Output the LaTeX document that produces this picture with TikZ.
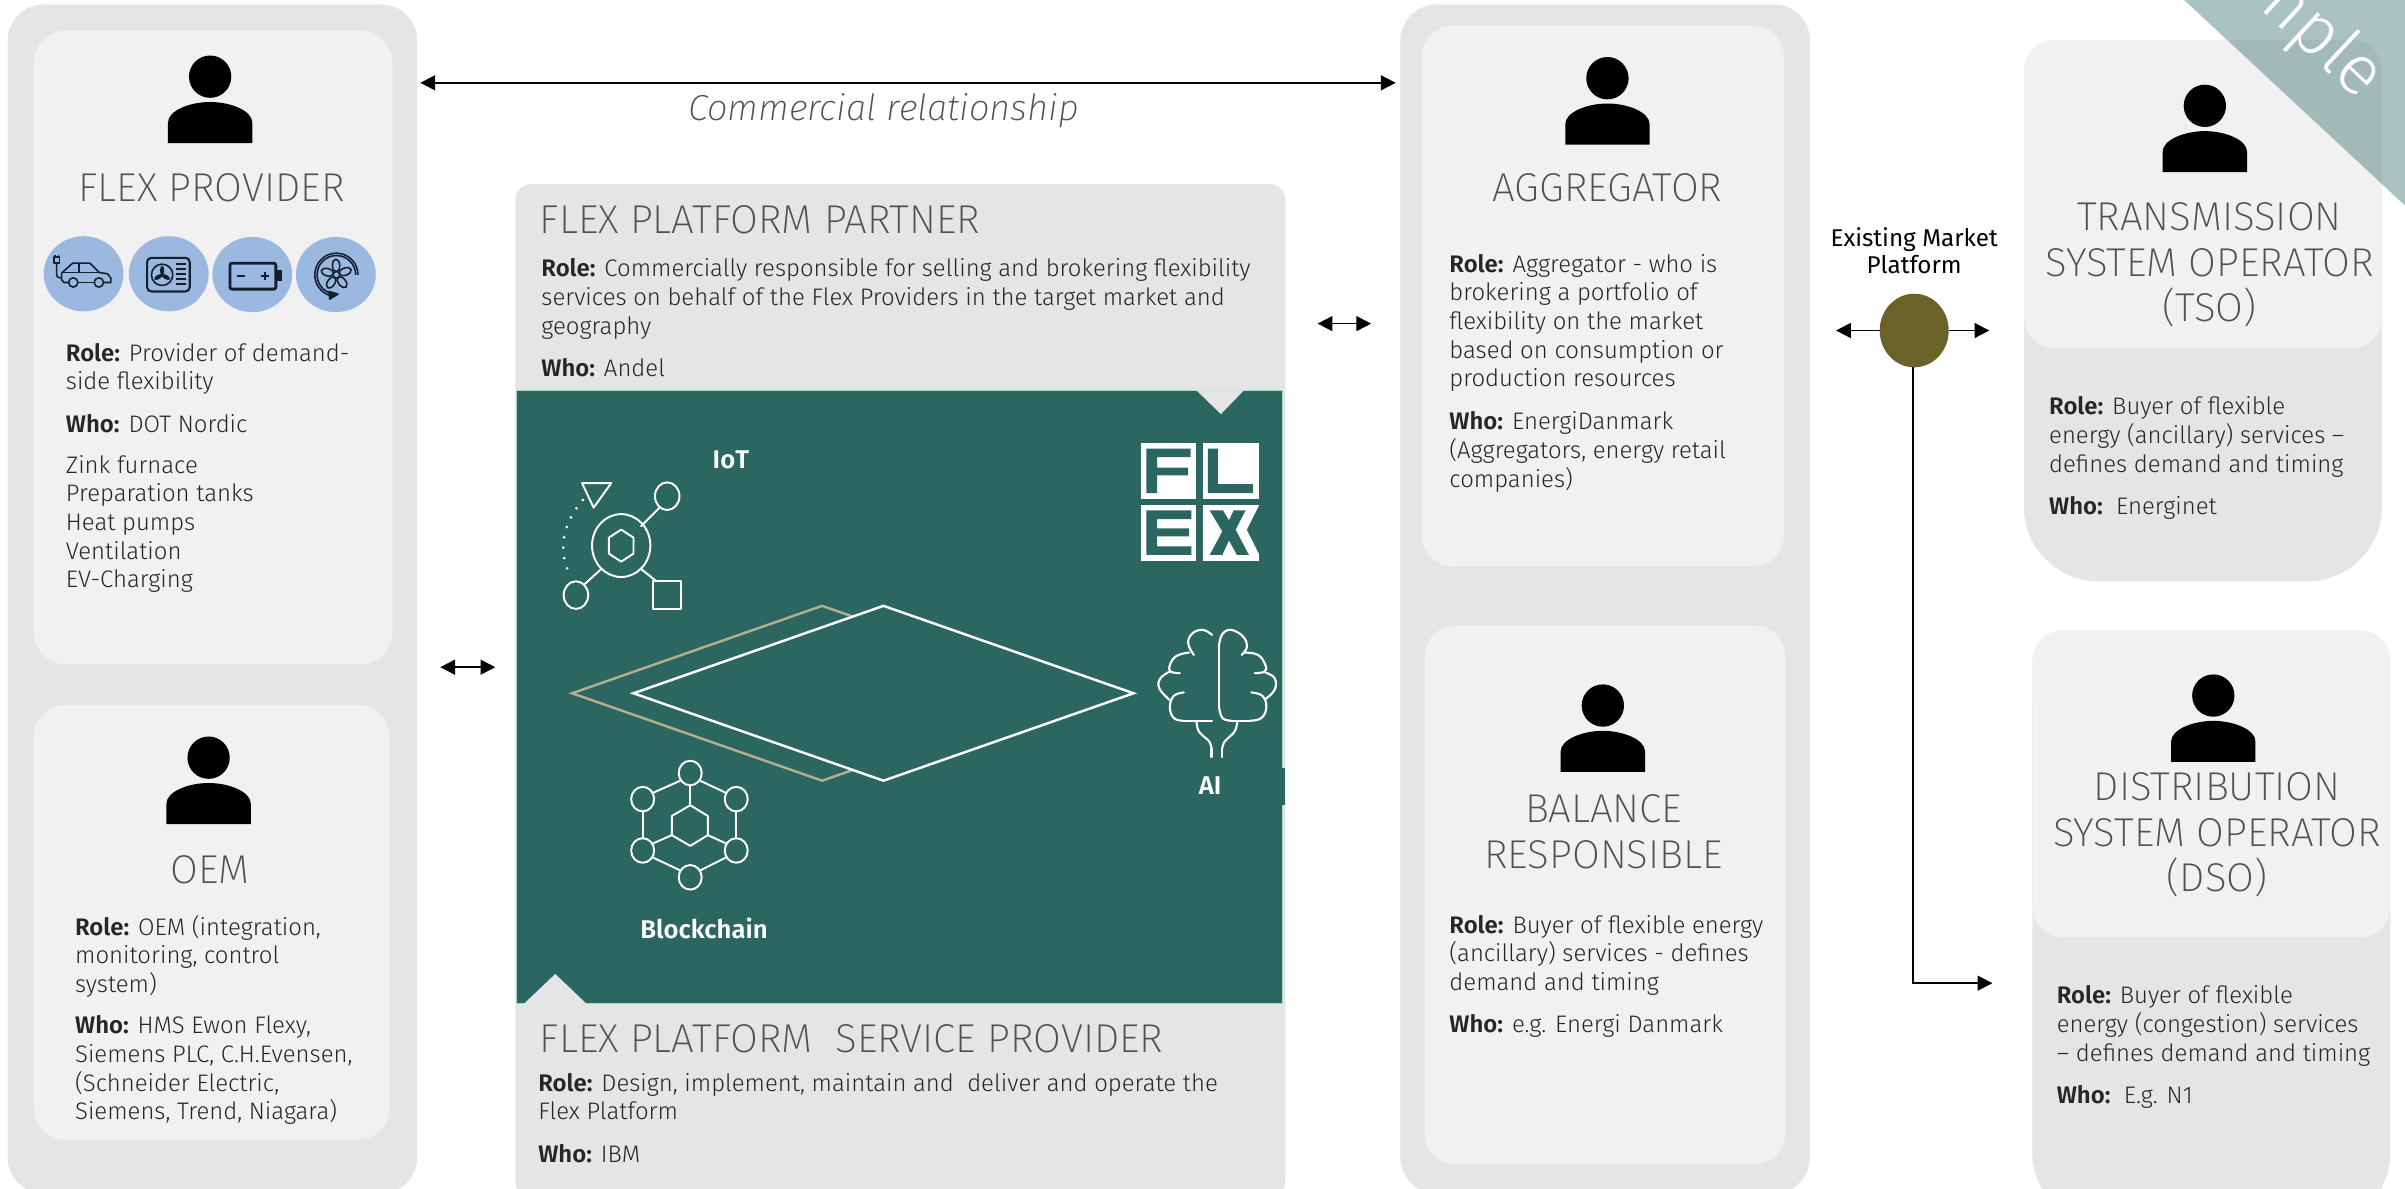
\documentclass[tikz,border=0pt]{standalone}
\usepackage{fontspec}
\setmainfont{Fira Sans Light}[BoldFont={Fira Sans SemiBold},ItalicFont={Fira Sans Light Italic}]
\newfontfamily\titlefont{Fira Sans ExtraLight}
\newfontfamily\thinitalic{Fira Sans ExtraLight Italic}
\newfontfamily\regfont{Fira Sans}
\usetikzlibrary{arrows.meta,shapes.geometric,calc}
\definecolor{outerg}{HTML}{E5E5E5}
\definecolor{innerg}{HTML}{F1F1F1}
\definecolor{teal}{HTML}{2B6661}
\definecolor{olivec}{HTML}{6B6229}
\definecolor{tanc}{HTML}{B5AE8C}
\definecolor{iconb}{HTML}{9AB8E0}
\definecolor{icond}{HTML}{14202E}
\definecolor{titleg}{HTML}{505050}
\definecolor{bodyg}{HTML}{262626}
\tikzset{
  panelbox/.style={inner sep=0pt,outer sep=0pt,draw=none},
  txt/.style={inner sep=0pt,outer sep=0pt,anchor=north west,align=left,text=bodyg,
    font=\fontsize{6.8}{8.16}\selectfont},
  ttl/.style={inner sep=0pt,outer sep=0pt,anchor=center,align=center,text=titleg,
    font=\titlefont\fontsize{11.45}{13}\selectfont},
  ttlw/.style={inner sep=0pt,outer sep=0pt,anchor=west,align=left,text=titleg,
    font=\titlefont\fontsize{11.45}{13}\selectfont},
  lab/.style={inner sep=0pt,outer sep=0pt,text=white,font=\bfseries\fontsize{7.3}{8.16}\selectfont},
  conn/.style={line width=0.5pt,draw=black,{Triangle[length=4.2pt,width=4.2pt]}-{Triangle[length=4.2pt,width=4.2pt]}},
  conn1/.style={line width=0.5pt,draw=black,-{Triangle[length=4.2pt,width=4.2pt]}},
  iconl/.style={line width=0.55pt,draw=white,line cap=round,line join=round},
  dl/.style={line width=0.45pt,draw=icond,line join=round},
}
\newcommand\panel[7]{\node[panelbox,fill=#7,rounded corners=#6,minimum width={(#4-#2)*0.15338mm},minimum height={(#5-#3)*0.15338mm}] (#1) at ({(#2+#4)/2},{(#3+#5)/2}) {};}
\newcommand\person[2]{%
  \fill[black] (#1,#2) circle (13.8);
  \fill[black] (#1-27.5,#2+43.3) -- (#1-27.5,#2+30) .. controls (#1-27.5,#2+22) and (#1-13,#2+16.5) .. (#1,#2+16.5) .. controls (#1+13,#2+16.5) and (#1+27.5,#2+22) .. (#1+27.5,#2+30) -- (#1+27.5,#2+43.3) -- cycle;}
\newcommand\tb[4]{\node[txt] (#1) at (#2,#3-6.3) {#4};}
\begin{document}
\begin{tikzpicture}[x=0.015338cm,y=-0.015338cm]
\path[use as bounding box] (0,0) rectangle (1568,774.6);
\begin{scope}
\clip (0,0) rectangle (1568,774.6);
% outer panels
\panel{lo}{5}{3}{272}{778}{3.6mm}{outerg}
\panel{fp}{22}{20}{256}{433}{3.2mm}{innerg}
\panel{oem}{22}{459.5}{254}{743}{3.2mm}{innerg}
\panel{plat}{336}{120}{838}{780}{1.6mm}{outerg}
\panel{ao}{913}{3}{1180}{778}{3.6mm}{outerg}
\panel{agg}{927}{17}{1163}{369}{3mm}{innerg}
\panel{bal}{929}{408}{1164}{759}{3mm}{innerg}
\panel{tso}{1319.5}{26}{1553}{379}{7.5mm}{outerg}
\panel{tsot}{1319.5}{26}{1553}{227}{3mm}{innerg}
\panel{dso}{1325}{411}{1558.5}{800}{7.5mm}{outerg}
\panel{dsot}{1325}{411}{1558.5}{611}{3mm}{innerg}
% persons
\person{137}{50}
\person{136}{494}
\person{1048}{51}
\person{1045}{460}
\person{1437.5}{69}
\person{1443}{453.5}
% titles
\node[ttl] (t1) at (138,122.5) {FLEX PROVIDER};
\node[ttl] (t2) at (137,567) {OEM};
\node[ttl] (t3) at (1048,122.5) {AGGREGATOR};
\node[ttl] (t4) at (1045.5,542.3) {BALANCE\\RESPONSIBLE};
\node[ttl] (t5) at (1440.5,172.8) {TRANSMISSION\\SYSTEM OPERATOR\\(TSO)};
\node[ttl] (t6) at (1445.5,544.3) {DISTRIBUTION\\SYSTEM OPERATOR\\(DSO)};
\node[ttlw] (t7) at (352,143) {FLEX PLATFORM PARTNER};
\node[ttlw] (t8) at (352,677) {FLEX PLATFORM\ \ SERVICE PROVIDER};
% body texts
\tb{x1}{43}{230}{\textbf{Role:} Provider of demand-\\side flexibility\\[4pt]\textbf{Who:} DOT Nordic}
\tb{x1b}{43}{303}{Zink furnace\\Preparation tanks\\Heat pumps\\Ventilation\\EV-Charging}
\tb{x2}{49}{603}{\textbf{Role:} OEM (integration,\\monitoring, control\\system)\\[3.6pt]\textbf{Who:} HMS Ewon Flexy,\\Siemens PLC, C.H.Evensen,\\(Schneider Electric,\\Siemens, Trend, Niagara)}
\tb{x3}{353}{175}{\textbf{Role:} Commercially responsible for selling and brokering flexibility\\services on behalf of the Flex Providers in the target market and\\geography\\[4pt]\textbf{Who:} Andel}
\tb{x4}{351}{706}{\textbf{Role:} Design, implement, maintain and\ \ deliver and operate the\\Flex Platform\\[4pt]\textbf{Who:} IBM}
\tb{x5}{945}{172}{\textbf{Role:} Aggregator - who is\\brokering a portfolio of\\flexibility on the market\\based on consumption or\\production resources\\[4pt]\textbf{Who:} EnergiDanmark\\(Aggregators, energy retail\\companies)}
\tb{x6}{945}{603}{\textbf{Role:} Buyer of flexible energy\\(ancillary) services - defines\\demand and timing\\[3.6pt]\textbf{Who:} e.g. Energi Danmark}
\tb{x7}{1336}{265}{\textbf{Role:} Buyer of flexible\\energy (ancillary) services --\\defines demand and timing\\[4pt]\textbf{Who:}\ \ Energinet}
\tb{x8}{1341}{649}{\textbf{Role:} Buyer of flexible\\energy (congestion) services\\-- defines demand and timing\\[4pt]\textbf{Who:}\ \ E.g. N1}
% teal platform
\node[panelbox,fill=teal,draw={rgb,255:red,168;green,216;blue,204},line width=0.25pt,minimum width={(836-337)*0.15338mm},minimum height={(654.5-254.5)*0.15338mm}] (core) at (586.5,454.5) {};
\fill[outerg] (780,254.5) -- (811,254.5) -- (796,270) -- cycle;
\fill[outerg] (341,655) -- (383,655) -- (362,635) -- cycle;
\fill[teal] (835.5,501) rectangle (837.5,525);
\draw[tanc,line width=0.7pt,line join=miter] (373,452) -- (536,395) -- (596,416) -- (596,488) -- (536,509) -- cycle;
\fill[teal] (576,395) -- (739,452) -- (576,509) -- (413,452) -- cycle;
\draw[white,line width=0.7pt,line join=miter] (576,395) -- (739,452) -- (576,509) -- (413,452) -- cycle;
\node[lab] (iot) at (476.5,300) {IoT};
\node[lab] (ai) at (789,512) {AI};
\node[lab] (bc) at (459,605) {Blockchain};
% IoT icon
\draw[iconl] (405,355.7) ellipse (19 and 20.5);
\draw[iconl] (405,345.3) -- (413,350.5) -- (413,361) -- (405,366.2) -- (397,361) -- (397,350.5) -- cycle;
\draw[iconl] (435,323.5) ellipse (8 and 9);
\draw[iconl] (375.5,388) ellipse (8 and 9);
\draw[iconl] (426,378.6) rectangle (443.7,397);
\draw[iconl] (379.5,315) -- (398.5,315) -- (387,331) -- cycle;
\draw[iconl] (418,343) -- (430,331);
\draw[iconl] (392,371) -- (381,381);
\draw[iconl] (418,371) -- (428,379);
\draw[white,line width=0.85pt,line cap=round,dash pattern=on 0pt off 3pt] (380,326) .. controls (369,338) and (362,358) .. (372,375);
% blockchain icon
\foreach \cx/\cy in {450/504,419/521,480/521,419/554.5,480/554.5,450/572}{\draw[iconl] (\cx,\cy) ellipse (7.5 and 8);}
\draw[iconl] (450,525) -- (461.5,532) -- (461.5,544.5) -- (450,551.5) -- (438,544.5) -- (438,532) -- cycle;
\draw[iconl] (450,512) -- (450,525);
\draw[iconl] (456.5,509) -- (473.5,517);
\draw[iconl] (443.5,509) -- (425.5,517);
\draw[iconl] (419,529) -- (419,546.5);
\draw[iconl] (480,529) -- (480,546.5);
\draw[iconl] (425.5,550) -- (438,544.5);
\draw[iconl] (473.5,550) -- (461.5,544.5);
\draw[iconl] (425.5,559) -- (443.5,567.5);
\draw[iconl] (473.5,559) -- (456.5,567.5);
% FLEX logo
\begin{scope}[shift={(736.6,280.3)},x=0.003333cm,y=-0.003333cm]
\fill[white] (33,40) rectangle (200,207);
\fill[white] (220,40) rectangle (387,207);
\fill[white] (33,226) rectangle (200,393);
\fill[white] (220,226) rectangle (387,393);
\fill[teal] (50,56) -- (183,56) -- (183,82) -- (82,82) -- (82,113) -- (175,113) -- (175,137) -- (82,137) -- (82,190) -- (50,190) -- cycle;
\fill[teal] (235,56) -- (265,56) -- (265,163) -- (370,163) -- (370,190) -- (235,190) -- cycle;
\fill[teal] (50,242) -- (185,242) -- (185,268) -- (82,268) -- (82,296) -- (178,296) -- (178,320) -- (82,320) -- (82,350) -- (185,350) -- (185,376) -- (50,376) -- cycle;
\fill[teal] (240,242) -- (280,242) -- (298,272) -- (312,242) -- (348,242) -- (318,300) -- (358,376) -- (322,376) -- (298,332) -- (278,376) -- (240,376) -- (278,305) -- cycle;
\fill[teal] (388,228) -- (352,300) -- (388,372) -- cycle;
\end{scope}
% brain
\begin{scope}[shift={(749.7,404.2)},x=0.003333cm,y=-0.003333cm]
\draw[iconl,line width=0.6pt] plot[smooth,tension=0.7] coordinates {(187,45) (160,30) (128,40) (115,70) (132,105)};
\draw[iconl,line width=0.6pt] plot[smooth,tension=0.7] coordinates {(118,98) (80,108) (60,135) (62,155) (90,160)};
\draw[iconl,line width=0.6pt] plot[smooth,tension=0.7] coordinates {(60,155) (32,175) (28,205) (58,240)};
\draw[iconl,line width=0.6pt] plot[smooth,tension=0.7] coordinates {(102,218) (72,228) (60,262) (72,295) (100,303)};
\draw[iconl,line width=0.6pt] (100,303) -- (187,303);
\draw[iconl,line width=0.6pt] plot[smooth,tension=0.7] coordinates {(208,75) (218,42) (245,30) (280,50) (292,80) (276,105)};
\draw[iconl,line width=0.6pt] (208,75) -- (208,262);
\draw[iconl,line width=0.6pt] plot[smooth,tension=0.7] coordinates {(208,262) (218,295) (245,303)};
\draw[iconl,line width=0.6pt] (245,303) -- (300,303);
\draw[iconl,line width=0.6pt] plot[smooth,tension=0.7] coordinates {(285,98) (325,105) (347,135) (345,155) (315,160)};
\draw[iconl,line width=0.6pt] plot[smooth,tension=0.7] coordinates {(347,158) (375,175) (375,210) (347,238)};
\draw[iconl,line width=0.6pt] plot[smooth,tension=0.7] coordinates {(305,218) (338,228) (350,262) (335,295) (300,303)};
\draw[iconl,line width=0.6pt] plot[smooth,tension=0.6] coordinates {(140,303) (147,335) (178,365) (185,385)};
\draw[iconl,line width=0.6pt] (185,385) -- (185,412);
\draw[iconl,line width=0.6pt] plot[smooth,tension=0.6] coordinates {(263,303) (255,335) (225,365) (218,385)};
\draw[iconl,line width=0.6pt] (218,385) -- (218,412);
\end{scope}
% blue icon circles
\fill[iconb] (54.5,178.5) ellipse (26 and 24.5);
\fill[iconb] (110,178.5) ellipse (26 and 24.5);
\fill[iconb] (164.5,179) ellipse (26 and 24.5);
\fill[iconb] (219,179) ellipse (26 and 24.5);
% car + AC icons
\begin{scope}[shift={(26.08,149.9)},x=0.003333cm,y=-0.003333cm]
\draw[dl] (42,82) rectangle (58,100);
\draw[dl] (45,75) -- (45,82) (55,75) -- (55,82);
\draw[dl] (50,100) -- (50,132) .. controls (50,142) and (56,145) .. (65,145);
\draw[dl] (85,158) -- (72,158) -- (65,150) -- (65,130) -- (98,100) -- (150,100) -- (178,128) -- (203,132) -- (213,145) -- (213,158) -- (191,158);
\draw[dl] (118,100) -- (118,128) (68,128) -- (178,128) (114,158) -- (163,158);
\draw[dl] (100,158) circle (14);
\draw[dl] (177,158) circle (14);
\draw[dl,rounded corners=1.2pt,line width=0.6pt] (322,84) rectangle (450,185);
\draw[dl] (367,135) circle (32);
\fill[icond] (367,135) circle (5);
\foreach \a in {90,210,330}{\fill[icond,rotate around={\a:(367,135)}] (380,135) ellipse (14 and 6.5);}
\foreach \yy in {103,118,133,148,163}{\draw[dl,line width=0.6pt] (410,\yy) -- (438,\yy);}
\end{scope}
% battery + fan icons
\begin{scope}[shift={(136.9,149.9)},x=0.003333cm,y=-0.003333cm]
\draw[icond,line width=0.8pt,rounded corners=0.6pt] (60,100) rectangle (198,178);
\fill[icond] (198,122) rectangle (215,155);
\draw[icond,line width=0.7pt] (82,138) -- (105,138) (153,138) -- (177,138) (165,126) -- (165,150);
\draw[dl] (445,135) arc[start angle=0,end angle=-255,radius=65];
\draw[dl] (438,135) arc[start angle=0,end angle=-255,radius=58];
\draw[dl,fill=icond] (360,208) -- (385,193) -- (358,185) -- cycle;
\foreach \a in {20,92,164,236,308}{\draw[dl,rotate around={\a:(380,135)}] (408,135) ellipse (19 and 11);}
\draw[dl,fill=iconb] (380,135) circle (10);
\end{scope}
% connectors
\coordinate (cm) at (576,54);
\coordinate (c2) at (300,435);
\coordinate (c3) at (870,211);
\node[inner sep=0pt,outer sep=0pt,font=\thinitalic\fontsize{10.3}{12}\selectfont,text=titleg] (cr) at (576,72.5) {Commercial relationship};
\draw[conn] (lo.east |- cm) ++(2,0) -- ($(ao.west |- cm)+(-3,0)$);
\draw[conn] ($(lo.east |- c2)+(15,0)$) -- ($(plat.west |- c2)+(-13,0)$);
\draw[conn] ($(plat.east |- c3)+(21,0)$) -- ($(ao.west |- c3)+(-19,0)$);
\node[inner sep=0pt,outer sep=0pt,align=center,font=\regfont\fontsize{6.9}{7.5}\selectfont,text=black] (emt) at (1248,163.5) {Existing Market\\Platform};
\node[ellipse,fill=olivec,inner sep=0pt,outer sep=0pt,minimum width={45*0.15338mm},minimum height={48*0.15338mm}] (emp) at (1248,215.5) {};
\coordinate (el) at (1197,215.5);
\coordinate (er) at (1297,215.5);
\coordinate (ed) at (1299,641);
\draw[conn1] (emp.west) -- (el);
\draw[conn1] (emp.east) -- (er);
\draw[conn1] (emp.south -| 1247,0) |- (ed);
% banner
\fill[teal,opacity=0.4] (1424,0) -- (1568,134) -- (1568,0) -- cycle;
\node[inner sep=0pt,outer sep=0pt,rotate=-43,anchor=base east,text=white,font=\fontsize{20}{22}\selectfont] (sample) at (1538,66) {Sample};
\end{scope}
\end{tikzpicture}
\end{document}
